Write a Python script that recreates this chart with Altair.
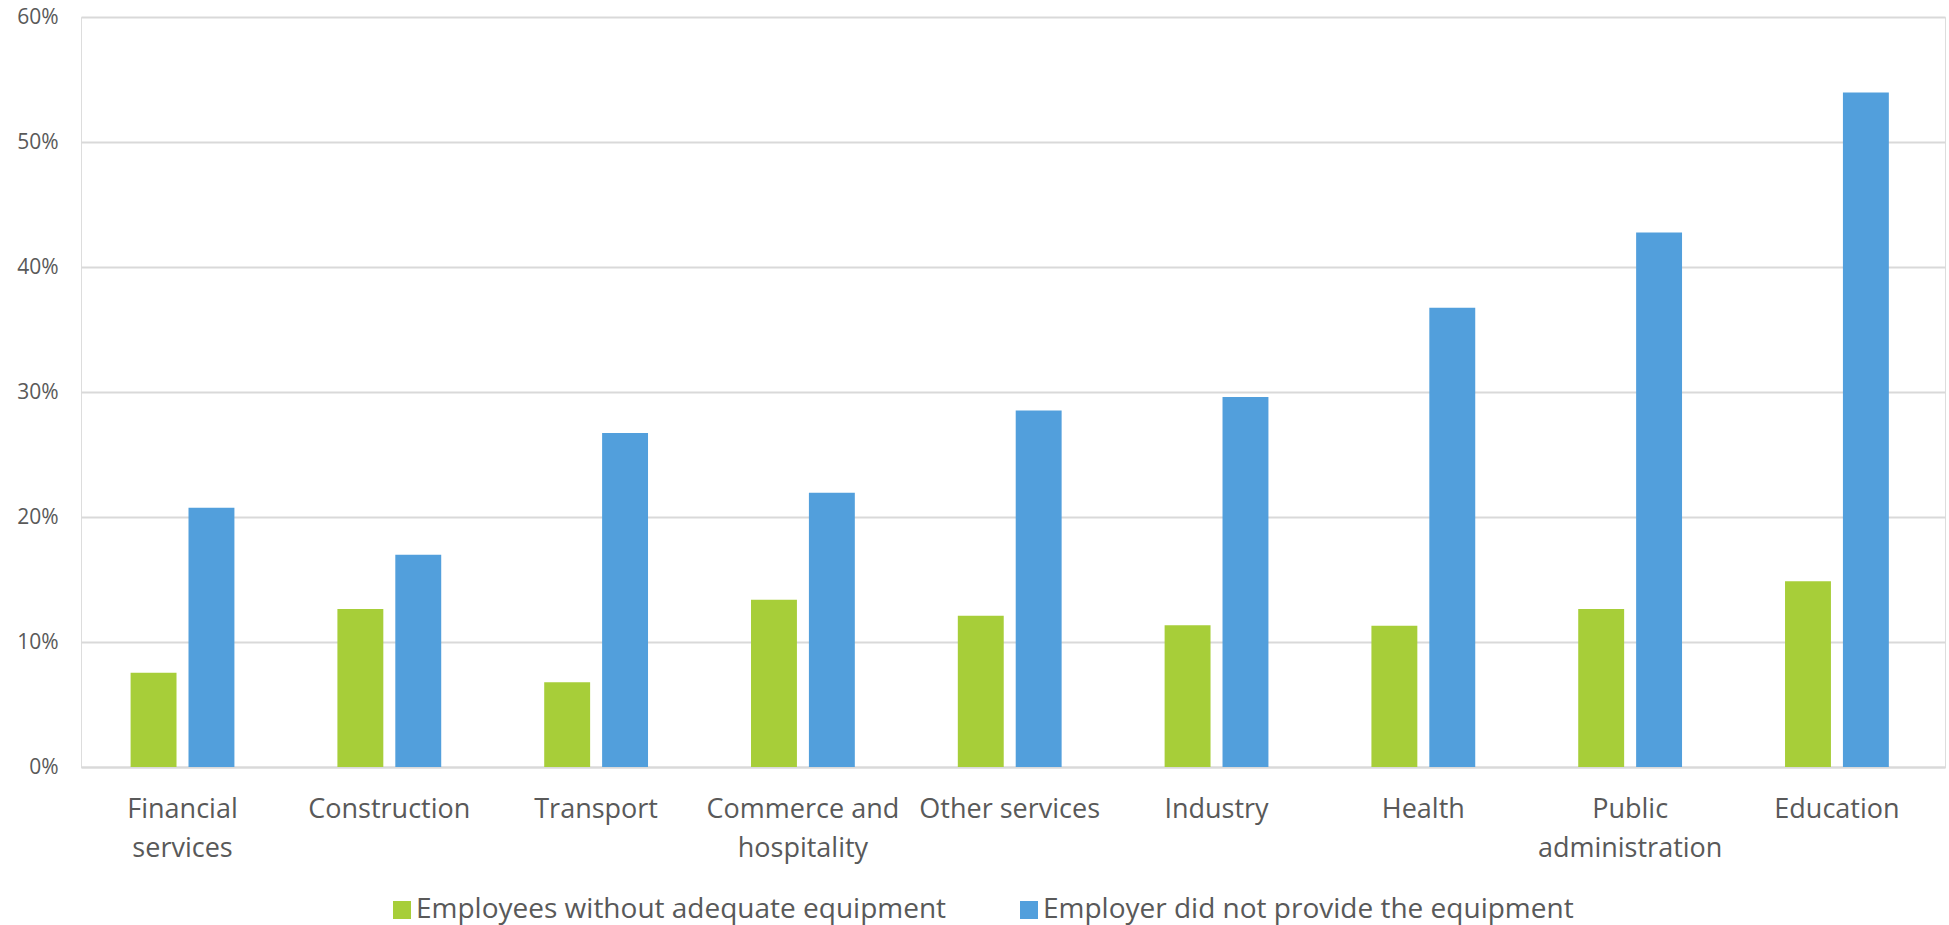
import altair as alt
import pandas as pd

categories = ["Financial services", "Construction", "Transport", "Commerce and hospitality",
              "Other services", "Industry", "Health", "Public administration", "Education"]
series_names = ["Employees without adequate equipment", "Employer did not provide the equipment"]
without_equipment = [7.55, 12.64, 6.78, 13.39, 12.11, 11.35, 11.31, 12.65, 14.87]
not_provided = [20.75, 16.99, 26.73, 21.95, 28.53, 29.60, 36.75, 42.76, 53.97]
y_ticks = [0, 10, 20, 30, 40, 50, 60]
colors = ["#A7CE39", "#529FDC"]

rows = []
for c, a, b in zip(categories, without_equipment, not_provided):
    rows.append({"category": c, "series": series_names[0], "value": a})
    rows.append({"category": c, "series": series_names[1], "value": b})
df = pd.DataFrame(rows)

label_expr = (
    "datum.label == 'Financial services' ? ['Financial', 'services'] : "
    "datum.label == 'Commerce and hospitality' ? ['Commerce and', 'hospitality'] : "
    "datum.label == 'Public administration' ? ['Public', 'administration'] : datum.label"
)

FONT = "Open Sans"
GREY = "#595959"

chart = alt.Chart(df).mark_bar().encode(
    x=alt.X("category:N", sort=categories, title=None,
            scale=alt.Scale(paddingInner=0.498, paddingOuter=0.2557, align=0.469),
            axis=alt.Axis(labelAngle=0, labelExpr=label_expr, labelFontSize=27,
                          labelColor=GREY, labelFont=FONT, labelLineHeight=39,
                          labelPadding=29, ticks=False, domainColor="#D9D9D9",
                          domainWidth=2, labelOverlap=False, labelLimit=400, grid=False)),
    xOffset=alt.XOffset("series:N", sort=series_names,
                        scale=alt.Scale(paddingInner=0.207)),
    y=alt.Y("value:Q", title=None,
            scale=alt.Scale(domain=[0, 60], nice=False),
            axis=alt.Axis(values=y_ticks, labelExpr="datum.value + '%'", labelFontSize=21,
                          labelColor=GREY, labelFont=FONT, labelPadding=23, ticks=False,
                          domain=False, gridColor="#D9D9D9", gridWidth=2)),
    color=alt.Color("series:N", sort=series_names,
                    scale=alt.Scale(domain=series_names, range=colors),
                    legend=alt.Legend(title=None, orient="none", direction="horizontal",
                                      legendX=307, legendY=879, symbolType="square",
                                      symbolSize=324, symbolStrokeWidth=0, labelFontSize=28,
                                      labelFont=FONT, labelColor=GREY, labelOffset=0,
                                      columnPadding=68, padding=0, labelLimit=800)),
).properties(
    width=1864, height=750,
    autosize=alt.AutoSizeParams(type="none"),
    padding={"left": 81, "top": 17, "right": 4, "bottom": 158},
).configure_view(stroke=None).configure(background="white")

chart.save("out.html", embed_options={"renderer": "svg", "actions": False})
